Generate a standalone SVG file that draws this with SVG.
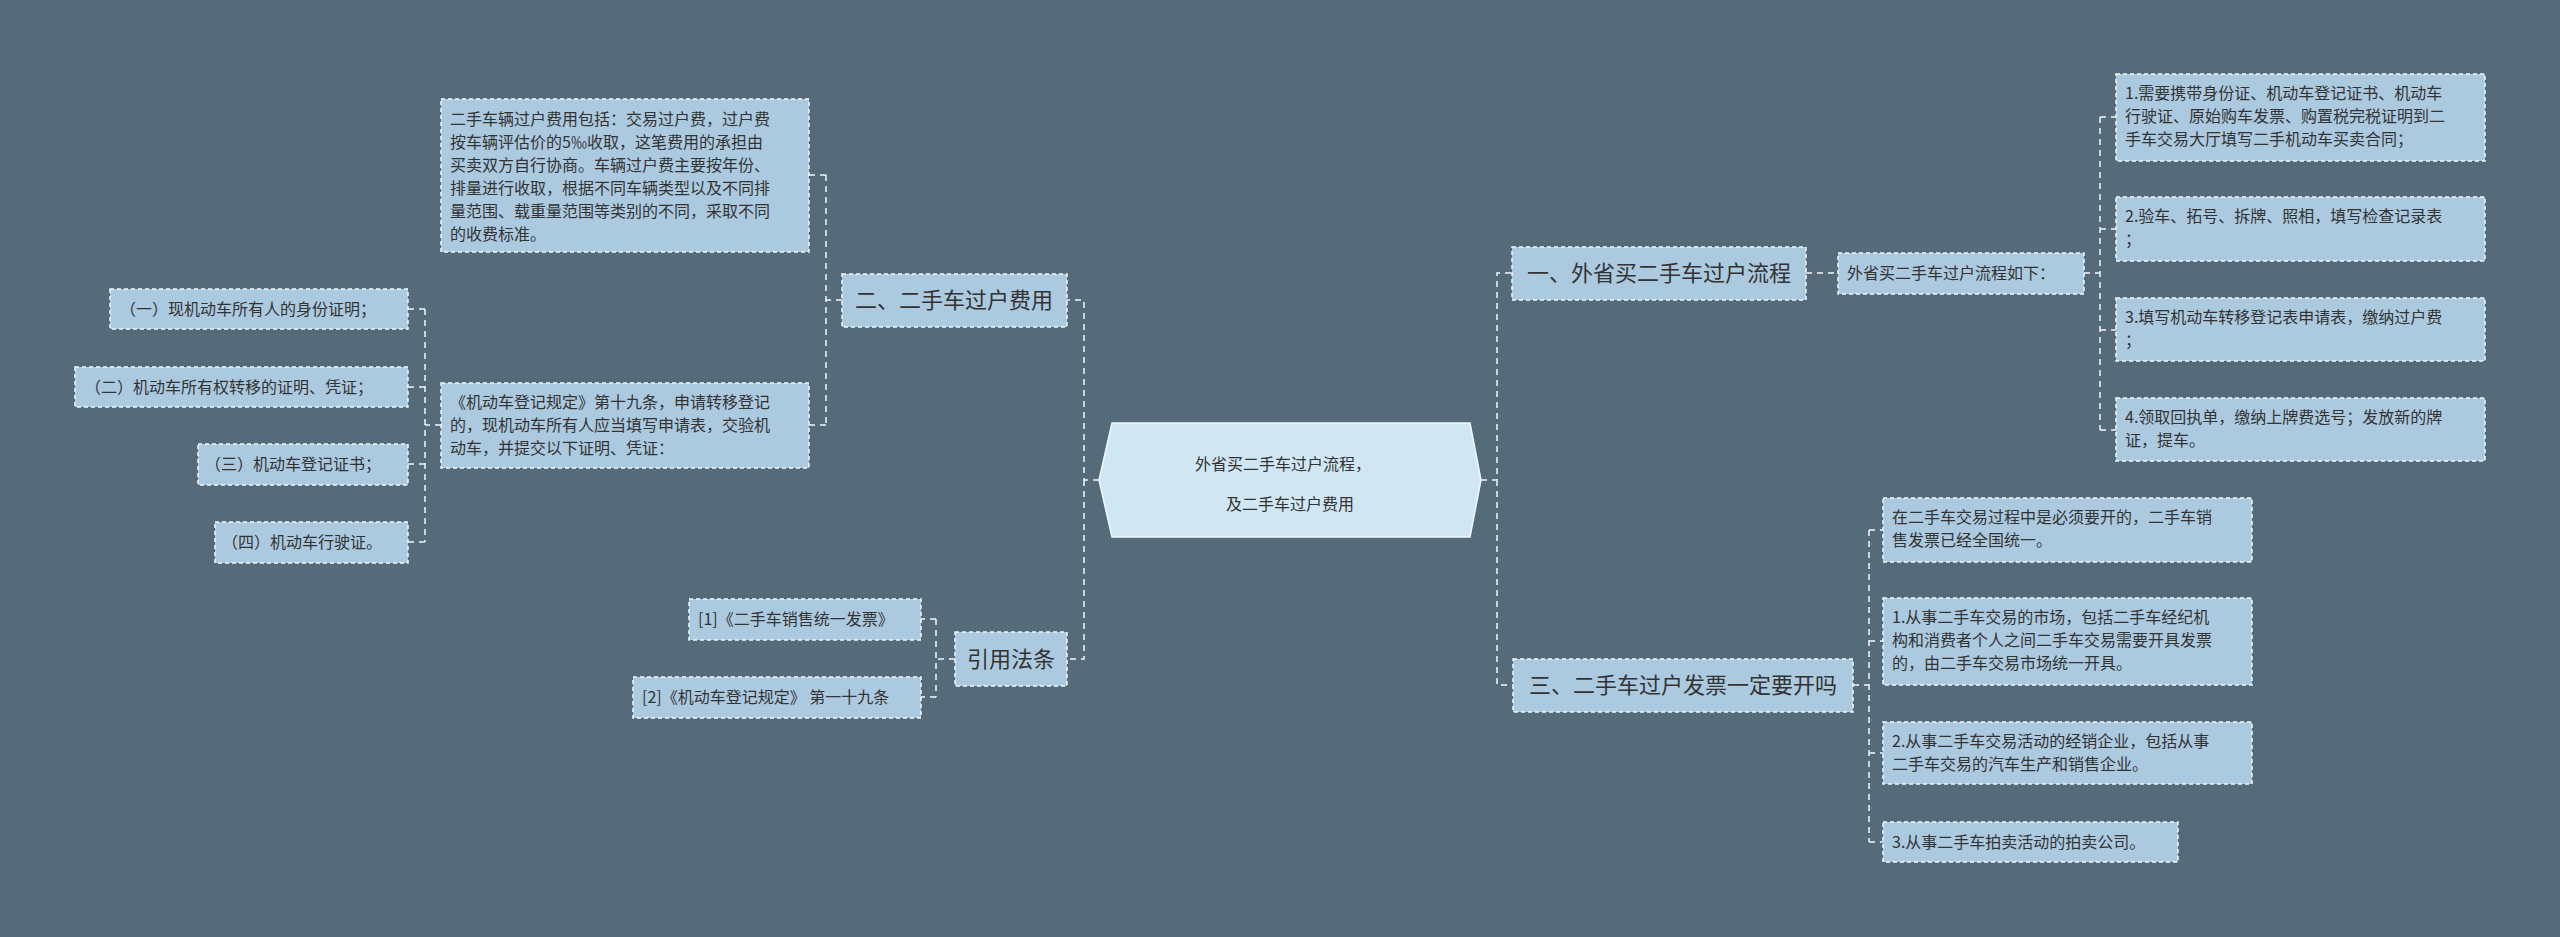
<svg xmlns="http://www.w3.org/2000/svg" width="2560" height="937" viewBox="0 0 2560 937">
<style>
.b{fill:#abc9df;stroke:#f2f7fb;stroke-width:1.5;stroke-dasharray:4 3}
.t{font-family:"Noto Sans CJK SC","Liberation Sans",sans-serif;fill:#333;font-size:16px}
.m{font-size:22px}
.c{fill:none;stroke:#f2f7fb;stroke-width:1.5;stroke-dasharray:6 5}
</style>
<rect width="2560" height="937" fill="#566b7a"/>
<g id="connectors">
<path class="c" d="M1099 480H1084V300H1067M1084 480V659H1067"/>
<path class="c" d="M1481 480H1497V273H1512M1497 480V685H1513"/>
<path class="c" d="M842 300H826M826 175V425M826 175H809M826 425H809"/>
<path class="c" d="M441 425H425M425 309V542M425 309H408M425 387H408M425 464H408M425 542H408"/>
<path class="c" d="M955 659H936M936 619V697M936 619H921M936 697H921"/>
<path class="c" d="M1806 273H1838"/>
<path class="c" d="M2084 273H2100M2100 117V430M2100 117H2116M2100 229H2116M2100 330H2116M2100 430H2116"/>
<path class="c" d="M1853 685H1869M1869 530V842M1869 530H1883M1869 641H1883M1869 753H1883M1869 842H1883"/>
</g>
<g id="center">
<polygon points="1112,423 1470,423 1481,480 1470,537 1112,537 1099,480" fill="#d0e7f3" stroke="#f2f7fb" stroke-width="1.5"/>
<text class="t" font-size="28" text-anchor="middle" x="1290"><tspan x="1283" y="470">外省买二手车过户流程，</tspan><tspan x="1290" y="510">及二手车过户费用</tspan></text>
</g>
<g id="n2"><rect class="b" x="842" y="274" width="225" height="53"/><text class="t m" x="954" y="308" text-anchor="middle">二、二手车过户费用</text></g>
<g id="fee"><rect class="b" x="441" y="99" width="368" height="153"/><text class="t"><tspan x="450" y="125">二手车辆过户费用包括：交易过户费，过户费</tspan><tspan x="450" y="148">按车辆评估价的5‰收取，这笔费用的承担由</tspan><tspan x="450" y="171">买卖双方自行协商。车辆过户费主要按年份、</tspan><tspan x="450" y="194">排量进行收取，根据不同车辆类型以及不同排</tspan><tspan x="450" y="217">量范围、载重量范围等类别的不同，采取不同</tspan><tspan x="450" y="240">的收费标准。</tspan></text></g>
<g id="reg"><rect class="b" x="441" y="383" width="368" height="85"/><text class="t"><tspan x="450" y="408">《机动车登记规定》第十九条，申请转移登记</tspan><tspan x="450" y="431">的，现机动车所有人应当填写申请表，交验机</tspan><tspan x="450" y="454">动车，并提交以下证明、凭证：</tspan></text></g>
<g id="i1"><rect class="b" x="110" y="289" width="298" height="40"/><text class="t" x="120" y="315">（一）现机动车所有人的身份证明；</text></g>
<g id="i2"><rect class="b" x="75" y="367" width="333" height="40"/><text class="t" x="85" y="393">（二）机动车所有权转移的证明、凭证；</text></g>
<g id="i3"><rect class="b" x="198" y="444" width="210" height="41"/><text class="t" x="205" y="470">（三）机动车登记证书；</text></g>
<g id="i4"><rect class="b" x="215" y="522" width="193" height="41"/><text class="t" x="222" y="548">（四）机动车行驶证。</text></g>
<g id="ref"><rect class="b" x="955" y="632" width="112" height="54"/><text class="t m" x="1011" y="667" text-anchor="middle">引用法条</text></g>
<g id="r1"><rect class="b" x="689" y="599" width="232" height="41"/><text class="t" x="698" y="625">[1]《二手车销售统一发票》</text></g>
<g id="r2"><rect class="b" x="633" y="677" width="288" height="41"/><text class="t" x="642" y="703">[2]《机动车登记规定》 第一十九条</text></g>
<g id="n1"><rect class="b" x="1512" y="247" width="294" height="53"/><text class="t m" x="1659" y="281" text-anchor="middle">一、外省买二手车过户流程</text></g>
<g id="flow"><rect class="b" x="1838" y="253" width="246" height="41"/><text class="t" x="1847" y="279">外省买二手车过户流程如下：</text></g>
<g id="f1"><rect class="b" x="2116" y="74" width="369" height="87"/><text class="t"><tspan x="2125" y="99">1.需要携带身份证、机动车登记证书、机动车</tspan><tspan x="2125" y="122">行驶证、原始购车发票、购置税完税证明到二</tspan><tspan x="2125" y="145">手车交易大厅填写二手机动车买卖合同；</tspan></text></g>
<g id="f2"><rect class="b" x="2116" y="197" width="369" height="64"/><text class="t"><tspan x="2125" y="222">2.验车、拓号、拆牌、照相，填写检查记录表</tspan><tspan x="2125" y="245">；</tspan></text></g>
<g id="f3"><rect class="b" x="2116" y="298" width="369" height="63"/><text class="t"><tspan x="2125" y="323">3.填写机动车转移登记表申请表，缴纳过户费</tspan><tspan x="2125" y="346">；</tspan></text></g>
<g id="f4"><rect class="b" x="2116" y="398" width="369" height="63"/><text class="t"><tspan x="2125" y="423">4.领取回执单，缴纳上牌费选号；发放新的牌</tspan><tspan x="2125" y="446">证，提车。</tspan></text></g>
<g id="n3"><rect class="b" x="1513" y="659" width="340" height="53"/><text class="t m" x="1683" y="693" text-anchor="middle">三、二手车过户发票一定要开吗</text></g>
<g id="v0"><rect class="b" x="1883" y="498" width="369" height="64"/><text class="t"><tspan x="1892" y="523">在二手车交易过程中是必须要开的，二手车销</tspan><tspan x="1892" y="546">售发票已经全国统一。</tspan></text></g>
<g id="v1"><rect class="b" x="1883" y="598" width="369" height="87"/><text class="t"><tspan x="1892" y="623">1.从事二手车交易的市场，包括二手车经纪机</tspan><tspan x="1892" y="646">构和消费者个人之间二手车交易需要开具发票</tspan><tspan x="1892" y="669">的，由二手车交易市场统一开具。</tspan></text></g>
<g id="v2"><rect class="b" x="1883" y="722" width="369" height="62"/><text class="t"><tspan x="1892" y="747">2.从事二手车交易活动的经销企业，包括从事</tspan><tspan x="1892" y="770">二手车交易的汽车生产和销售企业。</tspan></text></g>
<g id="v3"><rect class="b" x="1883" y="822" width="295" height="40"/><text class="t" x="1892" y="848">3.从事二手车拍卖活动的拍卖公司。</text></g>
</svg>
